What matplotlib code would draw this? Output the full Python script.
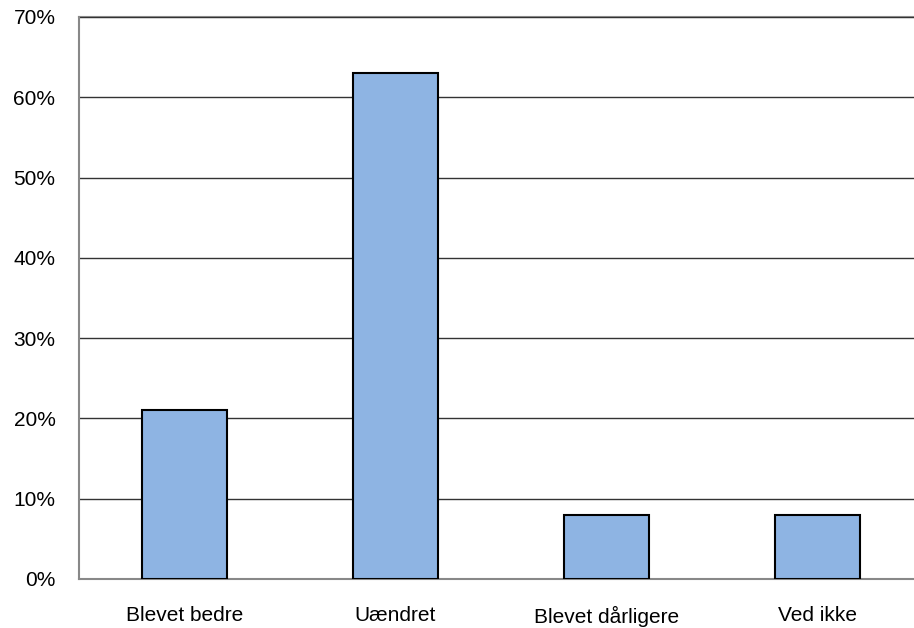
import matplotlib
matplotlib.use("Agg")
import matplotlib.pyplot as plt
from matplotlib.ticker import FuncFormatter, MultipleLocator

categories = ["Blevet bedre", "Uændret", "Blevet dårligere", "Ved ikke"]
shares = [21, 63, 8, 8]

plt.rcParams["font.family"] = ["Liberation Sans", "DejaVu Sans"]

fig = plt.figure(figsize=(9.14, 6.28), dpi=100)
ax = fig.add_axes([79 / 914, 1 - 579 / 628, 844 / 914, 562 / 628])

x = range(len(categories))
ax.bar(x, shares, width=0.4, color="#8EB4E3", edgecolor="black", linewidth=1.5, zorder=3)

ax.set_xlim(-0.5, len(categories) - 0.5)
ax.set_ylim(0, 70)
ax.yaxis.set_major_locator(MultipleLocator(10))
ax.yaxis.set_major_formatter(FuncFormatter(lambda v, _: f"{v:.0f}%"))
ax.set_xticks(list(x))
ax.set_xticklabels(categories)

ax.grid(axis="y", color="#333333", linewidth=1.0, zorder=0)
ax.tick_params(axis="both", length=0, labelsize=15)
ax.tick_params(axis="y", pad=17)
ax.tick_params(axis="x", pad=19.5)

for side in ("top", "right"):
    ax.spines[side].set_visible(False)
for side in ("left", "bottom"):
    ax.spines[side].set_color("#888888")
    ax.spines[side].set_linewidth(1.5)

# top gridline at 70% drawn in the lighter axis grey
ax.axhline(70, color="#888888", linewidth=1.5, zorder=1, clip_on=False)

fig.savefig("out.png", dpi=100)
